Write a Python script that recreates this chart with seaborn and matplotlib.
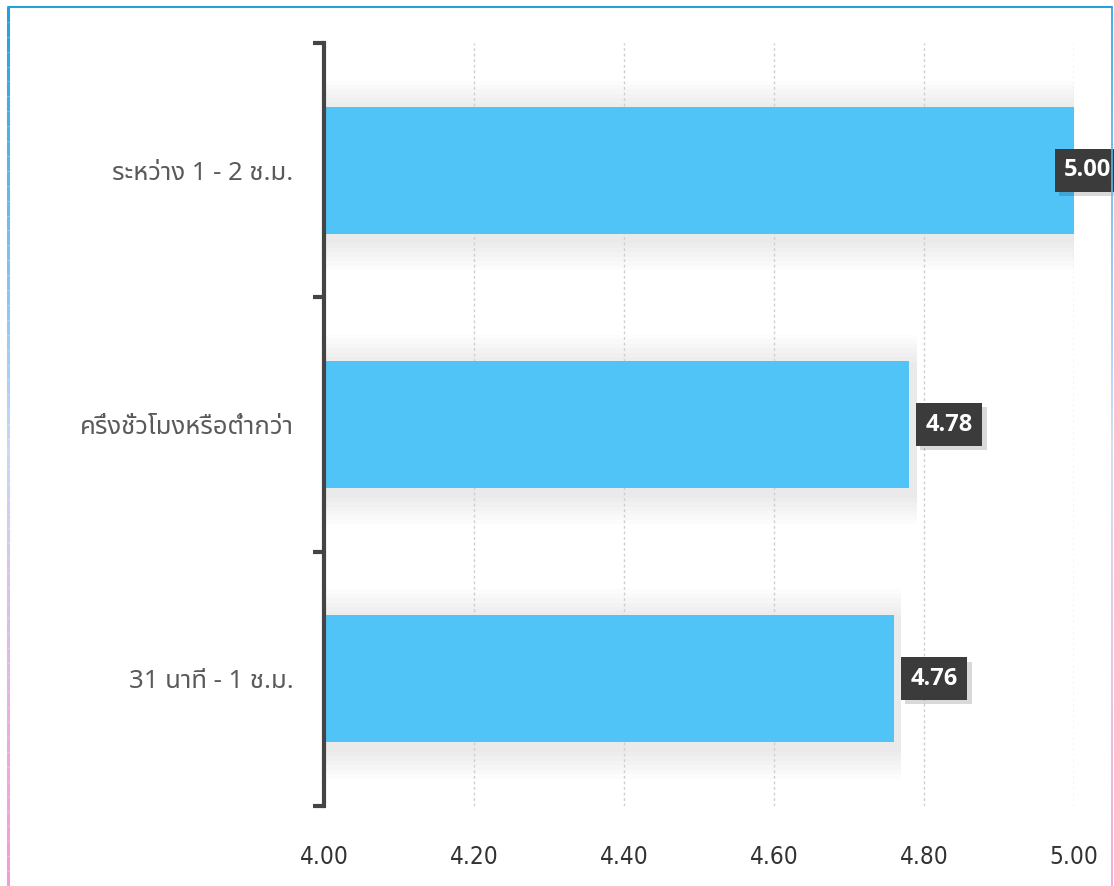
import numpy as np
import pandas as pd
import matplotlib
matplotlib.use("Agg")
import matplotlib.pyplot as plt
import matplotlib.patheffects as pe
import seaborn as sns
from matplotlib.collections import LineCollection
from matplotlib.colors import LinearSegmentedColormap

# data
categories = ["ระหว่าง 1 - 2 ช.ม.", "ครึ่งชั่วโมงหรือต่ำกว่า", "31 นาที - 1 ช.ม."]
scores = [5.00, 4.78, 4.76]
x_ticks = [4.00, 4.20, 4.40, 4.60, 4.80, 5.00]

df = pd.DataFrame({"category": categories, "score": scores})

sns.set_theme(style="white")
plt.rcParams["font.family"] = ["Noto Sans Thai", "Loma", "Garuda", "Tlwg Typo",
                               "Noto Sans", "DejaVu Sans"]

fig = plt.figure(figsize=(11.14, 8.86), dpi=100)
ax = fig.add_axes([324 / 1114, 1 - 806 / 886, 750 / 1114, 763 / 886])

# soft shadow around each bar
for i, v in enumerate(scores):
    for k in range(7):
        ax.barh(i + 0.02, v - x_ticks[0] + 0.01, left=x_ticks[0], height=0.5 + 0.035 * (k + 1),
                color="#8a8a8a", alpha=0.025, linewidth=0, zorder=1)

sns.barplot(data=df, x="score", y="category", order=categories, color="#50C3F7",
            saturation=1, width=0.5, linewidth=0, ax=ax, zorder=3)

ax.set_xlim(x_ticks[0], x_ticks[-1])
ax.set_ylim(len(categories) - 0.5, -0.5)
ax.set_xticks(x_ticks)
ax.set_xticklabels([f"{v:.2f}" for v in x_ticks])
ax.set_xlabel("")
ax.set_ylabel("")

for v in x_ticks[1:]:
    ax.axvline(v, color="#cfcfcf", linestyle=(0, (2, 2)), linewidth=1, zorder=2)

for s in ["top", "right", "bottom"]:
    ax.spines[s].set_visible(False)
ax.spines["left"].set_color("#444444")
ax.spines["left"].set_linewidth(3)
ax.spines["left"].set_zorder(5)

ax.tick_params(axis="x", length=0, pad=28, labelcolor="#333333")
ax.tick_params(axis="y", which="major", left=False, length=0, pad=22, labelsize=18.5,
               labelcolor="#5a5a5a")
ax.set_yticks(np.arange(len(categories) + 1) - 0.5, minor=True)
ax.tick_params(axis="y", which="minor", left=True, length=8, width=3, color="#444444")
for lab in ax.get_xticklabels():
    lab.set_family("DejaVu Sans")
    lab.set_fontstretch("condensed")
    lab.set_fontsize(17.5)

# value labels
for i, v in enumerate(scores):
    if v >= 4.95:
        off, ha = (27, 0), "right"
    else:
        off, ha = (12, 0), "left"
    t = ax.annotate(f"{v:.2f}", (v, i), xytext=off, textcoords="offset points",
                    ha=ha, va="center", color="white", fontsize=17, fontweight="bold",
                    family=["Open Sans", "DejaVu Sans"],
                    bbox=dict(boxstyle="square,pad=0.4", fc="#3b3b3b", ec="none"),
                    zorder=6, annotation_clip=False)
    t.get_bbox_patch().set_path_effects(
        [pe.SimplePatchShadow(offset=(3, -3), shadow_rgbFace="#000000", alpha=0.15), pe.Normal()])

# frame around the chart
cmap = LinearSegmentedColormap.from_list("edge", ["#1fa2e0", "#c8d8f5", "#f79ad3"])
ys = np.linspace(1 - 7 / 886, 0, 60)
for xpos, lw in [(8 / 1114, 2.2), (1112 / 1114, 1.2)]:
    segs = [[(xpos, ys[j]), (xpos, ys[j + 1])] for j in range(len(ys) - 1)]
    lc = LineCollection(segs, colors=cmap(np.linspace(0, 1, len(segs))), linewidths=lw,
                        transform=fig.transFigure)
    fig.add_artist(lc)
fig.add_artist(plt.Line2D([8 / 1114, 1112 / 1114], [1 - 7 / 886] * 2, color="#2a9fd8",
                          linewidth=1.5, transform=fig.transFigure))

fig.savefig("out.png", dpi=100)
